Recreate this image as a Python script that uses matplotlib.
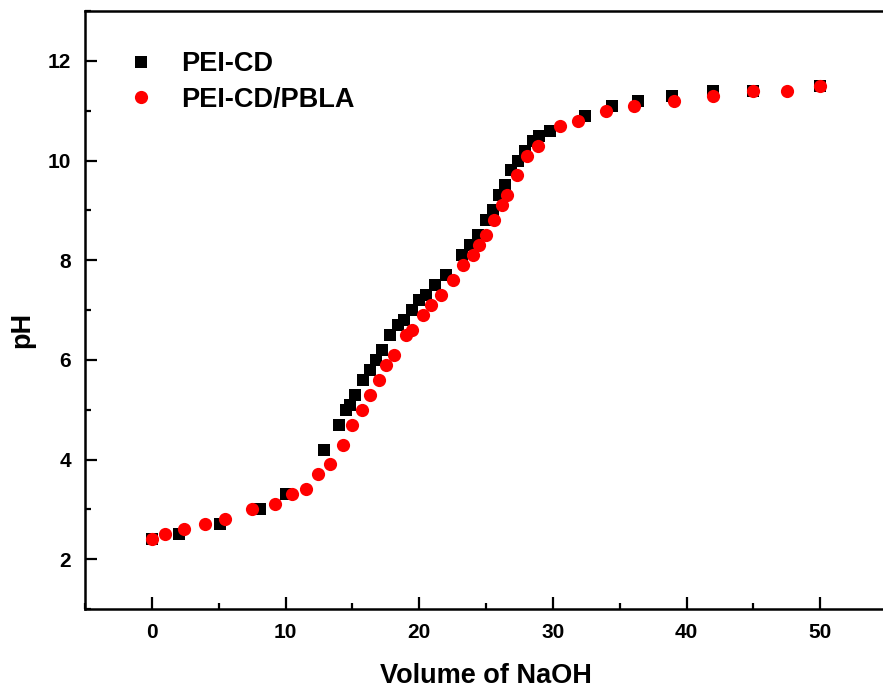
import matplotlib
matplotlib.use("Agg")
import matplotlib.pyplot as plt
from matplotlib.ticker import MultipleLocator

plt.rcParams["font.family"] = ["Liberation Sans", "DejaVu Sans"]
plt.rcParams["font.weight"] = "bold"

# PEI-CD titration (black squares)
vol_cd = [0, 2.0, 5.1, 8.1, 10.0, 12.9, 14.0, 14.5, 14.8, 15.2, 15.8, 16.3, 16.8,
          17.2, 17.8, 18.4, 18.9, 19.5, 20.0, 20.5, 21.2, 22.0, 23.2, 23.8, 24.4,
          25.0, 25.5, 26.0, 26.4, 26.9, 27.4, 27.9, 28.5, 29.0, 29.8, 32.4, 34.4,
          36.4, 38.9, 42.0, 45.0, 50.0]
ph_cd = [2.4, 2.5, 2.7, 3.0, 3.3, 4.2, 4.7, 5.0, 5.1, 5.3, 5.6, 5.8, 6.0,
         6.2, 6.5, 6.7, 6.8, 7.0, 7.2, 7.3, 7.5, 7.7, 8.1, 8.3, 8.5,
         8.8, 9.0, 9.3, 9.5, 9.8, 10.0, 10.2, 10.4, 10.5, 10.6, 10.9, 11.1,
         11.2, 11.3, 11.4, 11.4, 11.5]

# PEI-CD/PBLA titration (red circles)
vol_pbla = [0, 1.0, 2.4, 4.0, 5.5, 7.5, 9.2, 10.5, 11.5, 12.4, 13.3, 14.3, 15.0,
            15.7, 16.3, 17.0, 17.5, 18.1, 19.0, 19.5, 20.3, 20.9, 21.6, 22.5,
            23.3, 24.0, 24.5, 25.0, 25.6, 26.2, 26.6, 27.3, 28.1, 28.9, 30.5,
            31.9, 34.0, 36.1, 39.1, 42.0, 45.0, 47.5, 50.0]
ph_pbla = [2.4, 2.5, 2.6, 2.7, 2.8, 3.0, 3.1, 3.3, 3.4, 3.7, 3.9, 4.3, 4.7,
           5.0, 5.3, 5.6, 5.9, 6.1, 6.5, 6.6, 6.9, 7.1, 7.3, 7.6,
           7.9, 8.1, 8.3, 8.5, 8.8, 9.1, 9.3, 9.7, 10.1, 10.3, 10.7,
           10.8, 11.0, 11.1, 11.2, 11.3, 11.4, 11.4, 11.5]

W, H = 883, 690
fig = plt.figure(figsize=(W / 100, H / 100), dpi=100)
# axes box in pixels: left 85, right 887 (runs past the edge), top 11, bottom 609
ax = fig.add_axes([85 / W, (H - 609) / H, (887 - 85) / W, (609 - 11) / H])

ax.plot(vol_cd, ph_cd, "s", color="black", ms=8.5, mew=0, label="PEI-CD")
ax.plot(vol_pbla, ph_pbla, "o", color="#ff0000", ms=9.5, mew=0, label="PEI-CD/PBLA")

ax.set_xlim(-5, 55)
ax.set_ylim(1, 13)
ax.xaxis.set_major_locator(MultipleLocator(10))
ax.xaxis.set_minor_locator(MultipleLocator(5))
ax.yaxis.set_major_locator(MultipleLocator(2))
ax.yaxis.set_minor_locator(MultipleLocator(1))
ax.tick_params(which="both", direction="in", top=False, right=False, width=1.6)
ax.tick_params(which="major", length=8.5, labelsize=15, pad=10)
ax.tick_params(which="minor", length=4.5)
for sp in ("left", "bottom", "top"):
    ax.spines[sp].set_linewidth(1.8)
ax.spines["right"].set_visible(False)

fig.text(486 / W, 1 - 676 / H, "Volume of NaOH", fontsize=19.5, ha="center", va="center")
fig.text(22 / W, 1 - 330 / H, "pH", fontsize=19.5, rotation=90, ha="center", va="center")

leg = ax.legend(loc="upper left", bbox_to_anchor=((127 - 85) / 802, (609 - 51) / 598),
                frameon=False, fontsize=19.5, handlelength=1.0, handletextpad=1.0,
                borderpad=0, borderaxespad=0, labelspacing=0.36)

fig.savefig("out.png", dpi=100)
